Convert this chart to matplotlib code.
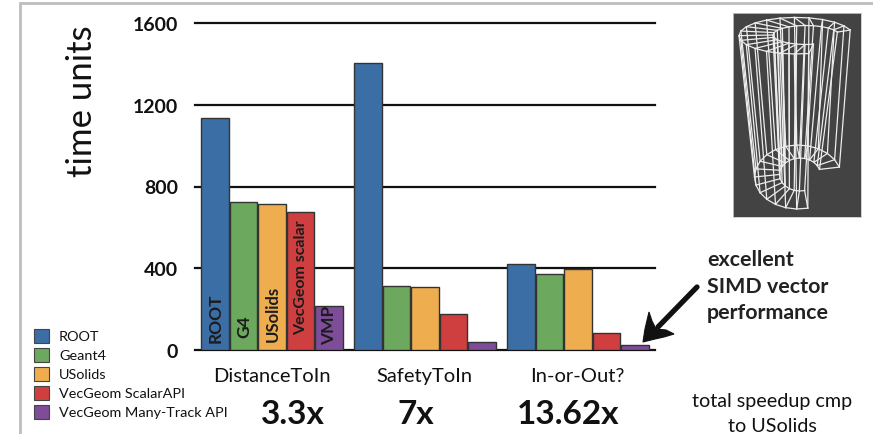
import numpy as np
import matplotlib
matplotlib.use("Agg")
import matplotlib.pyplot as plt
from matplotlib.patches import Rectangle, Polygon

plt.rcParams["font.family"] = ["Lato", "DejaVu Sans"]

# Timing results per benchmark
groups = ["DistanceToIn", "SafetyToIn", "In-or-Out?"]
speedups = ["3.3x", "7x", "13.62x"]
series = ["ROOT", "Geant4", "USolids", "VecGeom ScalarAPI", "VecGeom Many-Track API"]
root = [1135, 1404, 421]
geant4 = [724, 313, 372]
usolids = [714, 308, 396]
vecgeom_scalar = [675, 176, 85]
vecgeom_vmp = [215, 40, 25]
colors = ["#3B6EA5", "#6DA85F", "#EEAE50", "#D03F40", "#7E4C98"]
bar_labels = ["ROOT", "G4", "USolids", "VecGeom scalar", "VMP"]
yticks = [0, 400, 800, 1200, 1600]

W, H = 873, 435
fig = plt.figure(figsize=(W / 100, H / 100), dpi=100, facecolor="white")


def px_axes(x0, y0, x1, y1):
    """Axes placed by pixel box, y measured from the top edge."""
    return fig.add_axes([x0 / W, 1 - y1 / H, (x1 - x0) / W, (y1 - y0) / H])


# Overlay in pixel coordinates for slide furniture and free text
ov = fig.add_axes([0, 0, 1, 1], zorder=5)
ov.set_xlim(0, W)
ov.set_ylim(H, 0)
ov.axis("off")
ov.patch.set_alpha(0)

# Slide frame
ov.plot([20, 20, W], [H, 3.5, 3.5], color="#bdbdbd", lw=2, solid_joinstyle="miter")

# Bar chart
ax = px_axes(195, 24, 655, 351)
pitch_px = 28.45
group_step = 153 / pitch_px
ax.set_xlim((195 - 215.2) / pitch_px, (655 - 215.2) / pitch_px)
ax.set_ylim(0, 1600)
for s in ax.spines.values():
    s.set_visible(False)
ax.set_xticks([])
ax.set_yticks(yticks)
ax.set_yticklabels([str(t) for t in yticks], fontsize=14, color="#111111", fontweight="bold")
ax.tick_params(axis="y", length=0, pad=12)
ax.yaxis.grid(True, color="#111111", lw=1.6)
ax.set_axisbelow(True)
ax.patch.set_alpha(0)
for t in ax.yaxis.get_gridlines():
    t.set_clip_on(False)

values = [root, geant4, usolids, vecgeom_scalar, vecgeom_vmp]
label_sizes = [12.5, 12.5, 12, 11.5, 12.5]
label_bases = [40, 65, 45, 80, 30]
for j, (vals, col) in enumerate(zip(values, colors)):
    xs = [i * group_step + j for i in range(len(groups))]
    ax.bar(xs, vals, width=0.97, color=col, edgecolor="#333333", lw=1.0, zorder=3)
    ax.text(j + 0.02, label_bases[j], bar_labels[j], rotation=90, ha="center", va="bottom",
            fontsize=label_sizes[j], fontweight="bold", color="#1c1c1c", zorder=4)

# Axis title
ov.text(82, 101, "time units", rotation=90, ha="center", va="center",
        fontsize=25, color="#111111")

# Legend
for k, (name, col) in enumerate(zip(series, colors)):
    yc = 337 + k * 19
    ov.add_patch(Rectangle((33.5, yc - 7.5), 15, 14.5, facecolor=col, edgecolor="#444444", lw=0.8))
    ov.text(59, yc, name, ha="left", va="center", fontsize=10.4, color="#111111")

# Group names and speedup factors
for name, sp, xc, xs in zip(groups, speedups, [272, 424, 577], [293, 416, 568]):
    ov.text(xc, 377, name, ha="center", va="center", fontsize=14.5, color="#111111")
    ov.text(xs, 415, sp, ha="center", va="center", fontsize=24, fontweight="bold", color="#111111")

ov.text(772, 402, "total speedup cmp", ha="center", va="center", fontsize=14.2, color="#111111")
ov.text(772, 427, "to USolids", ha="center", va="center", fontsize=14.2, color="#111111")

# Callout
for line, y in zip(["excellent", "SIMD vector", "performance"], [260, 287, 313]):
    ov.text(707, y, line, ha="left", va="center", fontsize=15.4, fontweight="bold", color="#222222")
ov.plot([697, 658], [288, 328], color="#111111", lw=3.8, solid_capstyle="round")
ov.add_patch(Polygon([(643, 343), (645, 330), (649, 313), (652, 322), (656, 330), (666, 331),
                      (674, 335), (664, 338), (655, 340)],
                     closed=True, facecolor="#111111", edgecolor="#111111", lw=0.8))

# Wireframe of the cut tube
wf = px_axes(732.5, 13.5, 860.5, 218)
wf.set_xlim(732.5, 860.5)
wf.set_ylim(218, 13.5)
wf.set_xticks([])
wf.set_yticks([])
wf.set_facecolor("#434343")
for s in wf.spines.values():
    s.set_color("#c8c8c8")
    s.set_linewidth(0.6)

angles = np.radians(np.linspace(18, 283, 19))
ring_top_outer = (796, 36.7, 57, 18.3)
ring_top_inner = (806, 36, 33, 9.5)
ring_bot_outer = (798, 178, 43.5, 32)
ring_bot_inner = (800, 175.5, 20.5, 16.5)


def ring(c):
    return c[0] + c[2] * np.cos(angles), c[1] - c[3] * np.sin(angles)


wire = dict(color="#ededed", lw=0.9)
tox, toy = ring(ring_top_outer)
tix, tiy = ring(ring_top_inner)
box, boy = ring(ring_bot_outer)
bix, biy = ring(ring_bot_inner)
for rx, ry in [(tox, toy), (tix, tiy), (box, boy), (bix, biy)]:
    wf.plot(rx, ry, **wire)
for i in range(len(angles)):
    wf.plot([tox[i], tix[i]], [toy[i], tiy[i]], **wire)
    wf.plot([box[i], bix[i]], [boy[i], biy[i]], **wire)
    wf.plot([tox[i], box[i]], [toy[i], boy[i]], **wire)
    wf.plot([tix[i], bix[i]], [tiy[i], biy[i]], **wire)

fig.savefig("out.png", dpi=100)
